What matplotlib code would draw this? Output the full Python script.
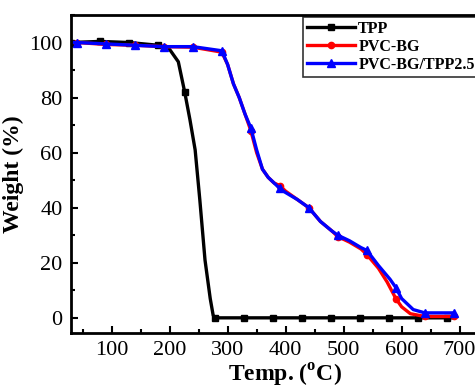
import numpy as np
import matplotlib
matplotlib.use('Agg')
import matplotlib.pyplot as plt
from matplotlib.ticker import MultipleLocator

plt.rcParams['font.family'] = ['Liberation Serif', 'DejaVu Serif']
plt.rcParams['mathtext.fontset'] = 'custom'
plt.rcParams['mathtext.rm'] = 'Liberation Serif:bold'
plt.rcParams['mathtext.bf'] = 'Liberation Serif:bold'

# TPP (black, squares)
tpp_t = [30, 80, 130, 180, 200, 215, 226, 235, 244, 252, 261, 270, 275, 278,
         328, 378, 428, 478, 528, 578, 628, 678, 690]
tpp_w = [100, 100.4, 100, 99, 97.5, 93, 82, 72, 61, 43, 21, 7, 1, 0,
         0, 0, 0, 0, 0, 0, 0, 0, 0]
tpp_marks = [0, 1, 2, 3, 6, 13, 14, 15, 16, 17, 18, 19, 20, 21]

# PVC-BG (red, circles)
pvc_t = [30, 40, 90, 140, 190, 240, 290, 300, 310, 320, 330, 340, 350, 360, 370, 380,
         390, 400, 420, 440, 460, 480, 490, 510, 530, 540, 560, 575, 590, 600, 615,
         640, 690]
pvc_w = [100, 100, 99.3, 99, 98.5, 98.3, 96.5, 92, 85, 80, 74, 68, 60, 54, 51, 49,
         48, 46, 43, 40, 35, 31.5, 29.5, 27.5, 25, 23, 18, 13, 7, 4, 1.5,
         0.5, 0.5]
pvc_marks = [1, 2, 3, 4, 5, 6, 11, 16, 19, 22, 25, 28, 31, 32]

# PVC-BG/TPP2.5 (blue, triangles)
bg_t = [30, 40, 90, 140, 190, 240, 290, 300, 310, 320, 330, 340, 350, 360, 370, 380,
        390, 400, 420, 440, 460, 480, 490, 510, 530, 540, 560, 580, 590, 600, 620,
        640, 690]
bg_w = [100, 100, 99.5, 99, 98.5, 98.5, 97, 92, 85, 80, 74, 69, 61, 54, 51, 49,
        47, 45.5, 43, 40, 35, 31.5, 30, 28, 25.5, 24.5, 19, 14, 11, 7, 3,
        1.8, 1.8]
bg_marks = [1, 2, 3, 4, 5, 6, 11, 16, 19, 22, 25, 28, 31, 32]

fig = plt.figure(figsize=(4.75, 3.88), dpi=100)
ax = fig.add_axes([0.1495, 0.1418, 0.9, 0.8196])

ax.plot(tpp_t, tpp_w, '-', color='black', lw=2.4, marker='s', ms=4.5,
        markevery=tpp_marks, label='TPP')
ax.plot(pvc_t, pvc_w, '-', color='red', lw=2.4, marker='o', ms=4.5,
        markevery=pvc_marks, label='PVC-BG')
ax.plot(bg_t, bg_w, '-', color='blue', lw=2.4, marker='^', ms=6,
        markevery=bg_marks, label='PVC-BG/TPP2.5')

ax.set_xlim(30, 767)
ax.set_ylim(-5.5, 110)
ax.xaxis.set_major_locator(MultipleLocator(100))
ax.xaxis.set_minor_locator(MultipleLocator(50))
ax.yaxis.set_major_locator(MultipleLocator(20))
ax.yaxis.set_minor_locator(MultipleLocator(10))
ax.tick_params(which='both', direction='in', width=1.5, labelsize=16, pad=6)
ax.tick_params(which='major', length=5)
ax.tick_params(which='minor', length=3)
for s in ax.spines.values():
    s.set_linewidth(2)

ax.set_xlabel(r'Temp. ($^{\mathbf{o}}$C)', fontsize=17, fontweight='bold', labelpad=1)
ax.set_ylabel('Weight (%)', fontsize=17, fontweight='bold', labelpad=4)

leg = ax.legend(loc='upper left', bbox_to_anchor=(0.543, 0.994), frameon=True,
                fancybox=False, edgecolor='black', prop={'weight': 'bold', 'size': 11.5},
                handlelength=3.0, handletextpad=0.2, borderpad=0.25, labelspacing=0.12,
                borderaxespad=0)
leg.get_frame().set_linewidth(1.2)

fig.savefig('out.png', dpi=100)
